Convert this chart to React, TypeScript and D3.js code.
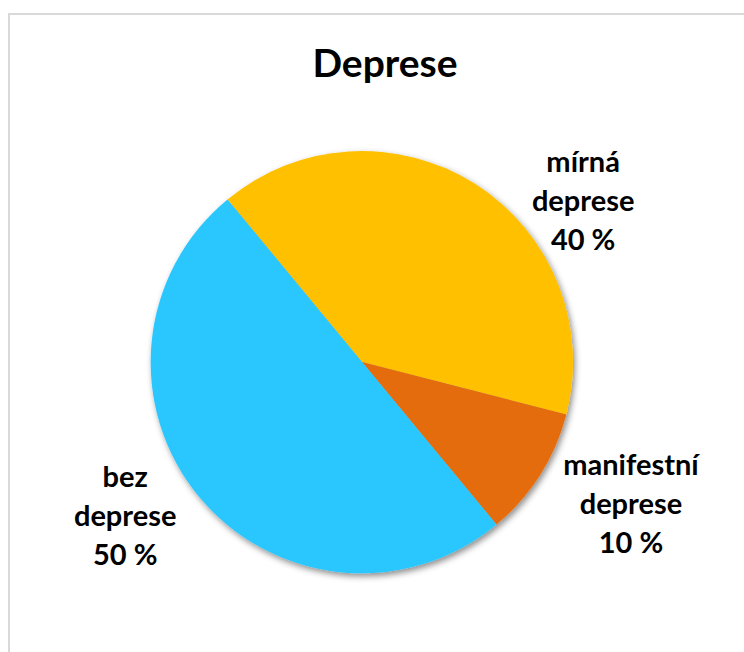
import React from "react";
import * as d3 from "d3";

const categories = ["mírná deprese", "manifestní deprese", "bez deprese"];
const labelLines = [["mírná", "deprese"], ["manifestní", "deprese"], ["bez", "deprese"]];
const values = [40, 10, 50];
const colors = ["#FFC000", "#E46C0A", "#2BC6FE"];

// label placement (angle in degrees clockwise from top, distance from centre)
const labelAngles = [54.1, 118.0, 236.8];
const labelDists = [273, 304.6, 283];

const W = 744, H = 652;
const cx = 362, cy = 362, R = 211;
const startDeg = -39.6;

export default function App() {
  const pie = d3.pie<number>().sort(null).value(d => d)
    .startAngle((startDeg * Math.PI) / 180)
    .endAngle(((startDeg + 360) * Math.PI) / 180);
  const arcs = pie(values);
  const arc = d3.arc<d3.PieArcDatum<number>>().innerRadius(0).outerRadius(R);
  const total = d3.sum(values);
  const font = "Lato, 'Open Sans', sans-serif";
  return (
    <svg width={W} height={H} style={{ position: "absolute", left: 0, top: 0, background: "#fff" }}>
      <defs>
        <filter id="sh" x="-20%" y="-20%" width="140%" height="140%">
          <feDropShadow dx="2" dy="3" stdDeviation="3" floodColor="#000" floodOpacity="0.45" />
        </filter>
      </defs>
      <rect x={9} y={14} width={W + 20} height={H + 20} fill="#fff" stroke="#d9d9d9" strokeWidth={2} />
      <text x={385} y={77} textAnchor="middle" fontFamily={font} fontWeight="bold" fontSize={39} fill="#000">Deprese</text>
      <g transform={`translate(${cx},${cy})`} filter="url(#sh)">
        {arcs.map((a, i) => (
          <path key={categories[i]} d={arc(a) || ""} fill={colors[i]} />
        ))}
      </g>
      {arcs.map((a, i) => {
        const ang = (labelAngles[i] * Math.PI) / 180;
        const x = cx + labelDists[i] * Math.sin(ang);
        const y = cy - labelDists[i] * Math.cos(ang);
        const lines = [...labelLines[i], `${Math.round((values[i] / total) * 100)} %`];
        const lh = 39;
        return (
          <text key={categories[i]} x={x} y={y} textAnchor="middle" fontFamily={font} fontWeight="bold" fontSize={29} fill="#000">
            {lines.map((l, j) => (
              <tspan key={j} x={x} y={y + (j - 1) * lh + 9}>{l}</tspan>
            ))}
          </text>
        );
      })}
    </svg>
  );
}
